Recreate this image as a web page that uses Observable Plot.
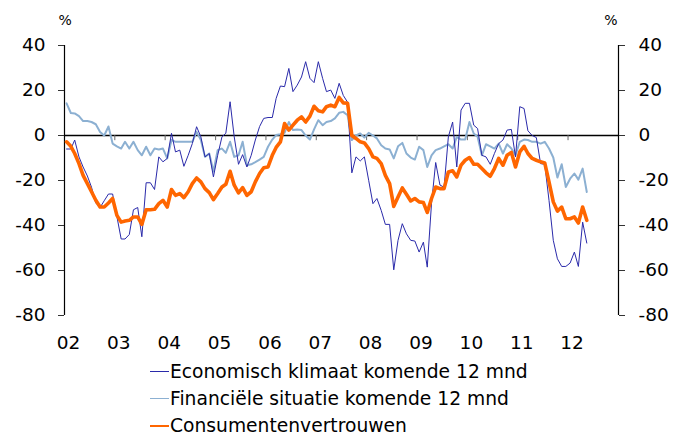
<!DOCTYPE html>
<html><head><meta charset="utf-8">
<script src="https://cdn.jsdelivr.net/npm/d3@7"></script>
<script src="https://cdn.jsdelivr.net/npm/@observablehq/plot@0.6"></script>
<style>
html,body{margin:0;background:#fff;overflow:hidden;font-family:"DejaVu Sans",Verdana,sans-serif;}
#chart svg{display:block;}
#legend{margin-left:150px;margin-top:6px;font-size:18.7px;line-height:22px;color:#000;}
.row{display:flex;align-items:center;height:27px;white-space:nowrap;}
.sw{width:19px;margin-right:1px;}
</style></head><body>
<div id="chart"></div>
<div id="legend"></div>
<script>
// monthly data, Jan 2002 .. May 2012
const startYear = 2002;
const seriesNames = ["Economisch klimaat komende 12 mnd", "Financiële situatie komende 12 mnd", "Consumentenvertrouwen"];
const seriesColors = ["#2a2aaa", "#8cb0d2", "#ff6600"];
const seriesWidths = [1, 2, 3.6];

const economisch = [
 -6,-6,-2,-9.5,-14,-18,-23,-30,-32,-29,-26,-26,
 -36,-46,-46,-44,-33,-32,-45,-21,-21,-24,-9.5,-11.7,
 -10.2,1,-7.3,-6.5,-13.7,-8.8,-3.6,3.9,-0.6,-9.5,-8,-18.4,
 -8.8,-0.6,1,15,-0.6,-12.8,-8.5,-14,-8.8,-2,4,7.6,
 8,8,16.5,22,21.7,29.8,19.5,22.4,26,32.8,25.4,23.5,
 32.8,25.4,19.5,20.2,16.5,23.2,17.8,14.8,-16.6,-9.5,-11.3,-9.5,
 -19.9,-30.3,-28,-33.3,-39.5,-39.5,-59.7,-46.6,-39.2,-43.7,-46.6,-46.9,
 -51.8,-47.4,-58.5,-30,-12,-22,-23,-0.6,6,-14,11.3,14.3,
 14.3,4.6,3.1,-8.8,-9.5,-12.8,-8,-3.6,-2,2.4,2.7,-9.5,
 12.8,12,2.1,0,-0.9,-12.5,-12.8,-28.8,-46.6,-54.8,-58.2,-58.2,
 -56.7,-51.8,-58.2,-38.5,-47.8
];
const financieel = [
 14.3,10,9.8,8.6,6.4,6.4,6,5,1.6,0,4,-3.6,
 -4.8,-5.8,-2.8,-5.8,-2.8,-6.5,-8.8,-5,-8.8,-5.8,-6.2,-5.8,
 -10.2,-2,-2.8,-2.8,-2.8,-2.8,-2.8,1.6,-2,-9.5,-8,-16,
 -6.5,-5.8,-7.7,-2.8,-9.5,-8.8,-2.8,-13.2,-12.8,-11.8,-10.7,-9.5,
 -5,-1.8,0.2,0.6,1.2,6,2.4,2.7,2.4,0,-1.8,2.7,
 6.8,4.6,6,6.4,7.6,10.1,10.5,9,-2,0,0.9,-0.9,
 1.2,0,-1.3,-4.3,-5.8,-6.2,-10.2,-4.8,-3.3,-8,-9.8,-10.7,
 -5,-6.5,-14,-8.8,-6.5,-5.8,-4.8,-3.9,-5.8,-0.6,-1.8,-1.8,
 6,0.9,-0.6,-8.8,-3.9,-4.8,-5.8,-3.6,-8,-3.9,-5.8,-8.8,
 -2.8,-1.8,-2,-2.8,-2.8,-3.6,-2.8,-5.8,-9.8,-18.7,-12.8,-22.9,
 -19.2,-16.9,-19.6,-14.7,-25.1
];
const vertrouwen = [
 -2.8,-4.8,-8,-12.5,-17.7,-21.4,-25,-28.8,-31.8,-31.8,-30,-28,
 -35.5,-38.5,-38,-37.7,-36.2,-36.2,-39.5,-33,-33,-32.8,-30.3,-28.8,
 -31.8,-24,-26.6,-25.8,-27.6,-25,-21.4,-18.9,-20.6,-23.6,-25.4,-28.5,
 -25.8,-22.9,-21.7,-15.9,-22.1,-25.5,-23.2,-26.6,-25,-20.6,-16.9,-14.3,
 -14,-8.8,-5.3,-2.8,5.3,2.4,4.6,6.8,8.3,6,8.6,13,
 11,10.5,12.8,13.5,12.8,16.9,14.5,14.3,0,-1.3,-2.8,-3.3,
 -5.8,-9.5,-10.2,-12.5,-17.7,-21.4,-31.5,-27.3,-23.3,-26.1,-29.1,-28,
 -29.5,-29.8,-34.2,-28,-22.9,-23.6,-23.6,-16.2,-15.7,-18.4,-13.2,-11,
 -9.8,-12.8,-12.8,-14.7,-16.6,-18.1,-14.7,-10.2,-13.2,-8.8,-7.5,-14,
 -7.3,-4.8,-8,-10.2,-11,-11.7,-12.2,-20.6,-29.5,-33.6,-31.8,-37,
 -37,-36.2,-38.9,-31.8,-37.7
];
const yTicks = [-80, -60, -40, -20, 0, 20, 40];
const yearLabels = [2002,2003,2004,2005,2006,2007,2008,2009,2010,2011,2012];
const yearTicks = [2003,2004,2005,2006,2007,2008,2009,2010,2011,2012];

const monthDate = i => new Date(Date.UTC(startYear, i, 16));
const toRows = arr => arr.map((v, i) => ({date: monthDate(i), value: v}));
const allSeries = [economisch, financieel, vertrouwen];
const xStart = new Date(Date.UTC(2002, 0, 1));
const xEnd = new Date(Date.UTC(2013, 0, 1));
const yd = y => new Date(Date.UTC(y, 0, 1));
const yFmt = d => String(d);

const drawOrder = [1, 0, 2];
const chart = Plot.plot({
  width: 675, height: 352,
  marginLeft: 64, marginRight: 57, marginTop: 45, marginBottom: 37,
  style: {fontSize: "18.5px", fontFamily: "'DejaVu Sans', Verdana, sans-serif", color: "#000", background: "#fff"},
  x: {type: "utc", domain: [xStart, xEnd]},
  y: {domain: [-80, 40]},
  marks: [
    Plot.ruleY([0], {stroke: "#000", strokeWidth: 1.3}),
    Plot.ruleX(yearTicks.map(yd), {y1: 0, y2: -2.3, stroke: "#666"}),
    Plot.ruleX([xStart, xEnd], {stroke: "#000", strokeWidth: 1.2}),
    Plot.axisY({anchor: "left", ticks: yTicks, tickFormat: yFmt, tickSize: 6, tickPadding: 13, label: null, stroke: "#333"}),
    Plot.axisY({anchor: "right", ticks: yTicks, tickFormat: yFmt, tickSize: 6, tickPadding: 14, label: null, stroke: "#333"}),
    Plot.axisX(yearLabels.map(yd), {tickFormat: d3.utcFormat("%y"), tickSize: 0, tickPadding: 20, dx: 4, label: null}),
    Plot.text(["%"], {text: d => d, frameAnchor: "top-left", textAnchor: "start", dx: -6, dy: -30, fontSize: 14}),
    Plot.text(["%"], {text: d => d, frameAnchor: "top-right", textAnchor: "end", dx: -1, dy: -30, fontSize: 14}),
    ...drawOrder.map(k => Plot.lineY(toRows(allSeries[k]), {x: "date", y: "value", stroke: seriesColors[k], strokeWidth: seriesWidths[k], strokeLinejoin: "round"}))
  ]
});
document.getElementById("chart").appendChild(chart);

const legend = document.getElementById("legend");
seriesNames.forEach((name, k) => {
  const row = document.createElement("div");
  row.className = "row";
  const sw = document.createElement("div");
  sw.className = "sw";
  sw.style.borderTop = `${Math.max(1, seriesWidths[k] * 0.8)}px solid ${seriesColors[k]}`;
  row.appendChild(sw);
  const t = document.createElement("span");
  t.textContent = name;
  row.appendChild(t);
  legend.appendChild(row);
});
</script>
</body></html>
